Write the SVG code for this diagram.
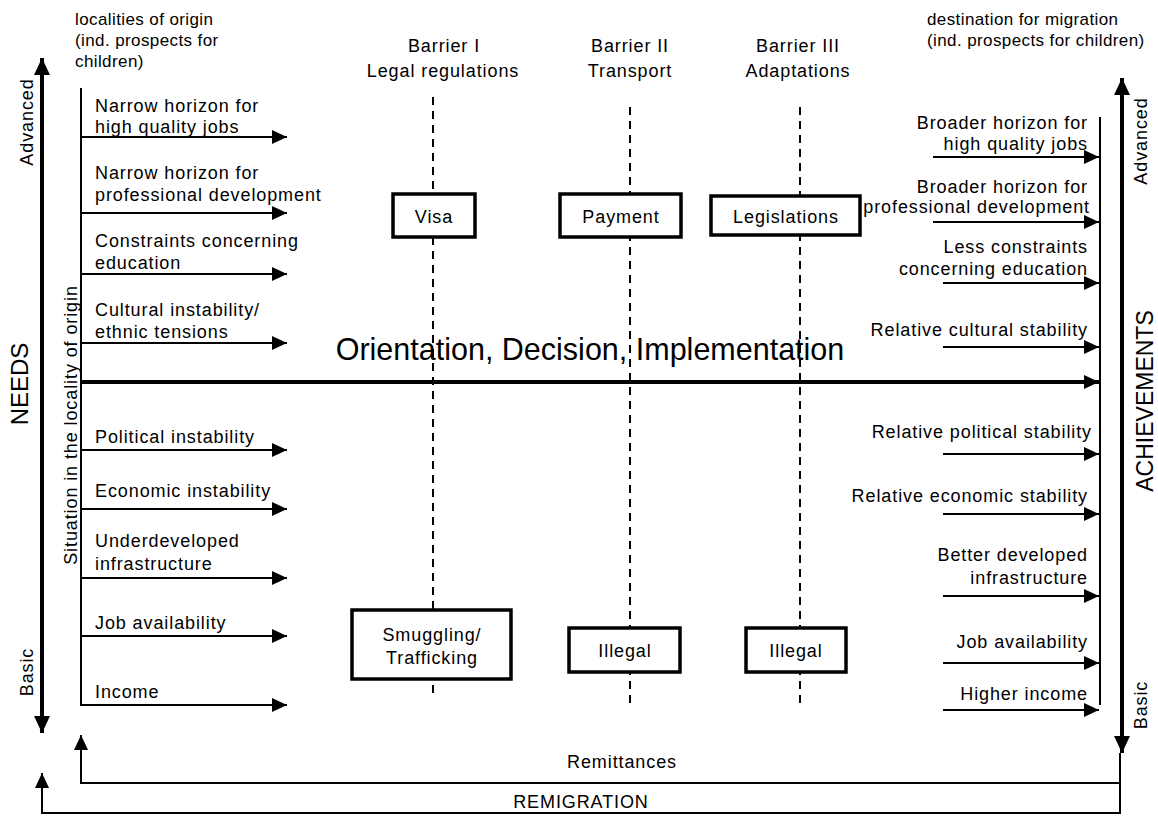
<svg xmlns="http://www.w3.org/2000/svg" width="1158" height="823" viewBox="0 0 1158 823">
<style>
text{font-family:"Liberation Sans",Arial,sans-serif;fill:#000}
.t{font-size:18px;letter-spacing:0.9px}
.s{font-size:17px;letter-spacing:0.4px}
.m{text-anchor:middle}
.e{text-anchor:end}
.thin{stroke:#000;stroke-width:2;fill:none}
.thick{stroke:#000;stroke-width:4;fill:none}
.arr{stroke:#000;stroke-width:2;fill:none;marker-end:url(#ah)}
.dash{stroke:#000;stroke-width:2;stroke-dasharray:8 6;fill:none}
.box{fill:#fff;stroke:#000;stroke-width:3.5}
</style>
<defs>
<marker id="ah" markerUnits="userSpaceOnUse" markerWidth="15" markerHeight="14" refX="15" refY="7" orient="auto"><path d="M0,0 L15,7 L0,14 z" fill="#000"/></marker>
<marker id="ahb" markerUnits="userSpaceOnUse" markerWidth="17" markerHeight="16" refX="17" refY="8" orient="auto-start-reverse"><path d="M0,0 L17,8 L0,16 z" fill="#000"/></marker>
</defs>
<rect width="1158" height="823" fill="#fff"/>

<g id="top-labels">
<text class="s" x="75" y="25">localities of origin</text>
<text class="s" x="75" y="46">(ind. prospects for</text>
<text class="s" x="75" y="67">children)</text>
<text class="s" x="927" y="25">destination for migration</text>
<text class="s" x="927" y="46">(ind. prospects for children)</text>
</g>

<g id="barrier-headers">
<text class="t m" x="444" y="52">Barrier I</text>
<text class="t m" x="443" y="77">Legal regulations</text>
<text class="t m" x="630" y="52">Barrier II</text>
<text class="t m" x="630" y="77">Transport</text>
<text class="t m" x="798" y="52">Barrier III</text>
<text class="t m" x="798" y="77">Adaptations</text>
</g>

<g id="connectors">
<line class="dash" x1="433" y1="97" x2="433" y2="693"/>
<line class="dash" x1="630" y1="107" x2="630" y2="703"/>
<line class="dash" x1="800" y1="107" x2="800" y2="703"/>
<line class="thick" x1="42" y1="58" x2="42" y2="733" style="marker-start:url(#ahb);marker-end:url(#ahb)"/>
<line class="thick" x1="1122" y1="78" x2="1122" y2="753" style="marker-start:url(#ahb);marker-end:url(#ahb)"/>
<line class="thin" x1="81" y1="88" x2="81" y2="706"/>
<line class="thin" x1="1100" y1="117" x2="1100" y2="705"/>
<line class="arr" x1="81" y1="137" x2="287" y2="137"/>
<line class="arr" x1="81" y1="213" x2="287" y2="213"/>
<line class="arr" x1="81" y1="274" x2="287" y2="274"/>
<line class="arr" x1="81" y1="343" x2="287" y2="343"/>
<line class="arr" x1="81" y1="450" x2="287" y2="450"/>
<line class="arr" x1="81" y1="509" x2="287" y2="509"/>
<line class="arr" x1="81" y1="578" x2="287" y2="578"/>
<line class="arr" x1="81" y1="636" x2="287" y2="636"/>
<line class="arr" x1="81" y1="705" x2="287" y2="705"/>
<line class="arr" x1="933" y1="157" x2="1099" y2="157"/>
<line class="arr" x1="933" y1="222" x2="1099" y2="222"/>
<line class="arr" x1="943" y1="283" x2="1099" y2="283"/>
<line class="arr" x1="943" y1="347" x2="1099" y2="347"/>
<line class="arr" x1="943" y1="454" x2="1099" y2="454"/>
<line class="arr" x1="943" y1="514" x2="1099" y2="514"/>
<line class="arr" x1="943" y1="596" x2="1099" y2="596"/>
<line class="arr" x1="943" y1="663" x2="1099" y2="663"/>
<line class="arr" x1="943" y1="710" x2="1099" y2="710"/>
<line x1="81" y1="382" x2="1099" y2="382" stroke="#000" stroke-width="4" style="marker-end:url(#ah)"/>
<path class="thin" d="M1120,753 V813 H42 V773" style="marker-end:url(#ah)"/>
<path class="thin" d="M1120,783 H81 V735" style="marker-end:url(#ah)"/>
</g>

<g id="axis-labels">
<text class="m" style="font-size:24px" transform="translate(28,384) rotate(-90)">NEEDS</text>
<text class="t m" transform="translate(33,122) rotate(-90)">Advanced</text>
<text class="t m" transform="translate(33,672) rotate(-90)">Basic</text>
<text class="t m" transform="translate(77,425) rotate(-90)">Situation in the locality of origin</text>
<text class="m" style="font-size:23px" transform="translate(1153,401) rotate(-90)">ACHIEVEMENTS</text>
<text class="t m" transform="translate(1147,141) rotate(-90)">Advanced</text>
<text class="t m" transform="translate(1147,705) rotate(-90)">Basic</text>
</g>

<g id="needs-left">
<text class="t" x="95" y="112">Narrow horizon for</text>
<text class="t" x="95" y="133">high quality jobs</text>
<text class="t" x="95" y="179">Narrow horizon for</text>
<text class="t" x="95" y="201">professional development</text>
<text class="t" x="95" y="247">Constraints concerning</text>
<text class="t" x="95" y="269">education</text>
<text class="t" x="95" y="316">Cultural instability/</text>
<text class="t" x="95" y="338">ethnic tensions</text>
<text class="t" x="95" y="443">Political instability</text>
<text class="t" x="95" y="497">Economic instability</text>
<text class="t" x="95" y="547">Underdeveloped</text>
<text class="t" x="95" y="570">infrastructure</text>
<text class="t" x="95" y="629">Job availability</text>
<text class="t" x="95" y="698">Income</text>
</g>

<g id="achievements-right">
<text class="t e" x="1088" y="129">Broader horizon for</text>
<text class="t e" x="1088" y="150">high quality jobs</text>
<text class="t e" x="1088" y="193">Broader horizon for</text>
<text class="t e" x="1090" y="213">professional development</text>
<text class="t e" x="1088" y="253">Less constraints</text>
<text class="t e" x="1088" y="275">concerning education</text>
<text class="t e" x="1088" y="336">Relative cultural stability</text>
<text class="t e" x="1092" y="438">Relative political stability</text>
<text class="t e" x="1088" y="502">Relative economic stability</text>
<text class="t e" x="1088" y="561">Better developed</text>
<text class="t e" x="1088" y="584">infrastructure</text>
<text class="t e" x="1088" y="648">Job availability</text>
<text class="t e" x="1088" y="700">Higher income</text>
</g>

<g id="main-label">
<text class="m" style="font-size:30.5px" x="590" y="360">Orientation, Decision, Implementation</text>
</g>

<g id="box-visa"><rect class="box" x="393" y="194" width="82" height="43"/><text class="t m" x="434" y="223">Visa</text></g>
<g id="box-payment"><rect class="box" x="560" y="194" width="121" height="43"/><text class="t m" x="621" y="223">Payment</text></g>
<g id="box-legislations"><rect class="box" x="711" y="196" width="149" height="39"/><text class="t m" x="786" y="223">Legislations</text></g>
<g id="box-smuggling"><rect class="box" x="352" y="610" width="159" height="69"/><text class="t m" x="432" y="641">Smuggling/</text><text class="t m" x="432" y="664">Trafficking</text></g>
<g id="box-illegal-1"><rect class="box" x="569" y="628" width="111" height="44"/><text class="t m" x="625" y="657">Illegal</text></g>
<g id="box-illegal-2"><rect class="box" x="746" y="628" width="100" height="44"/><text class="t m" x="796" y="657">Illegal</text></g>

<g id="bottom-labels">
<text class="t m" x="622" y="768">Remittances</text>
<text class="t m" x="581" y="808">REMIGRATION</text>
</g>
</svg>
